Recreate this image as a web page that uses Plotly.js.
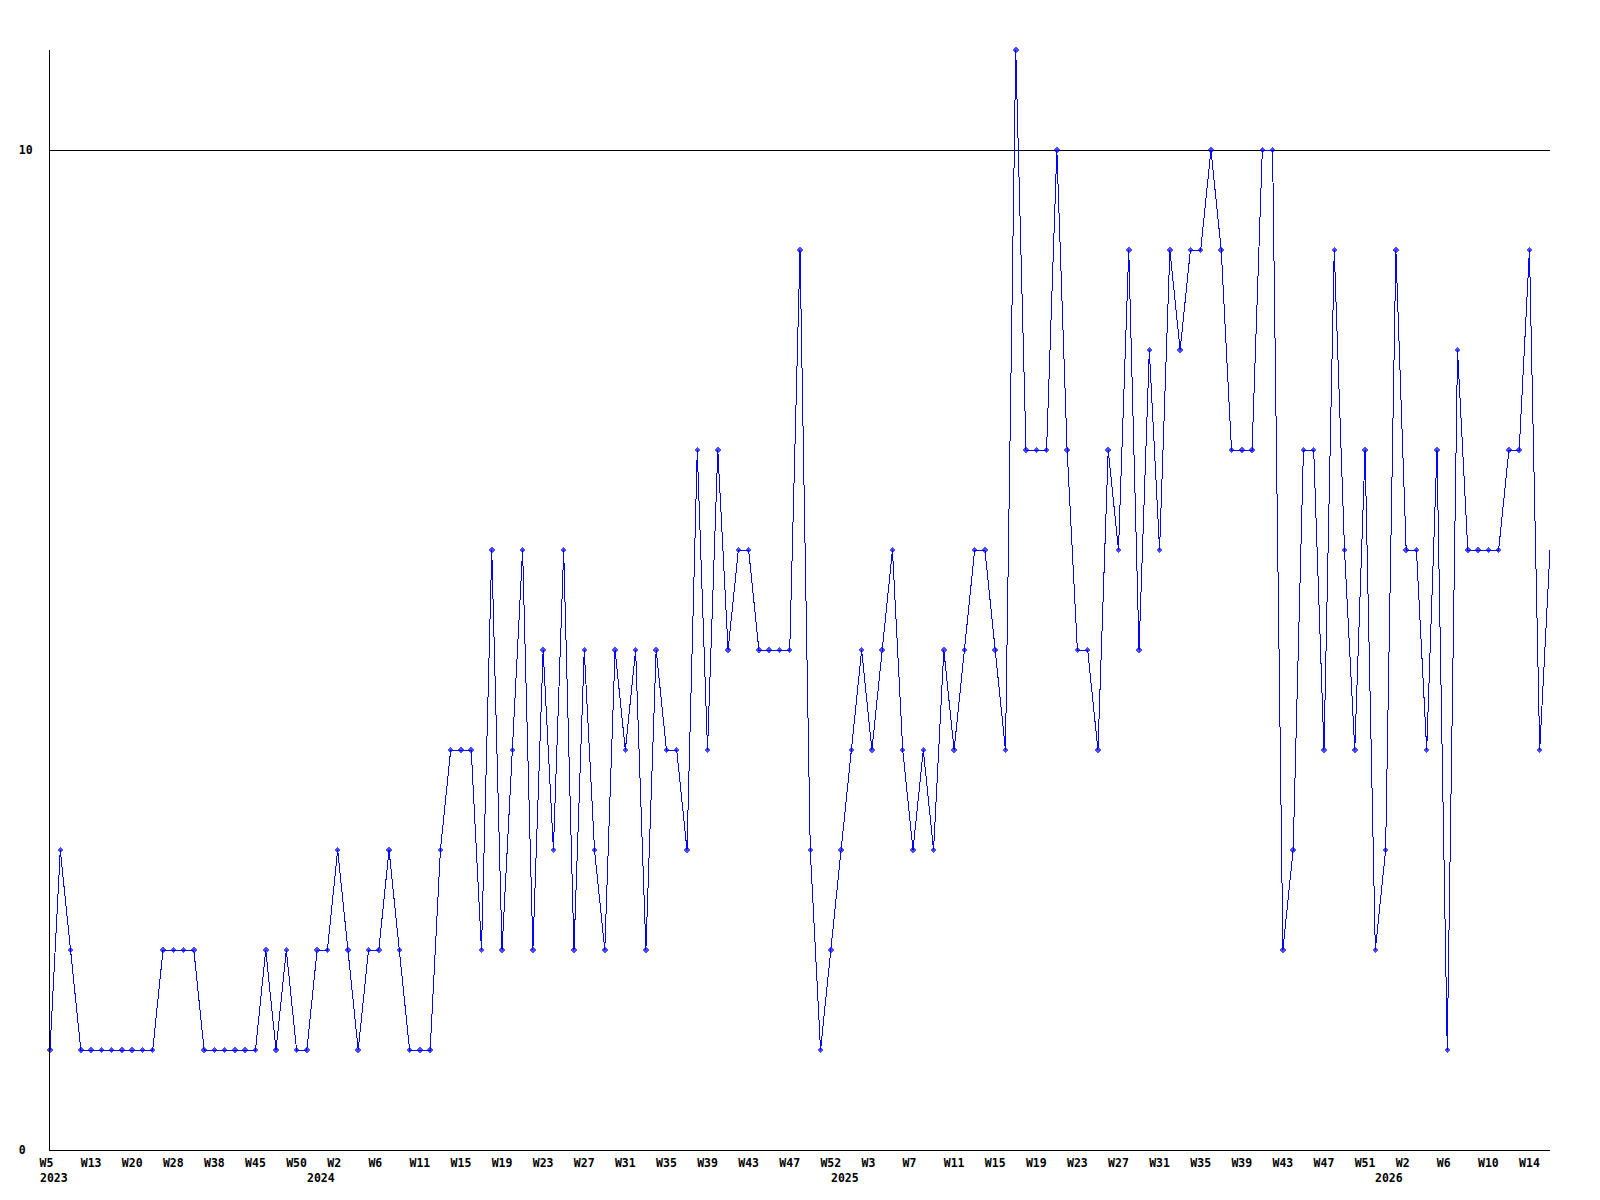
<!DOCTYPE html>
<html>
<head>
<meta charset="utf-8">
<script src="https://cdn.plot.ly/plotly-3.0.1.min.js"></script>
<style>
  html, body { margin: 0; padding: 0; background: #fff; }
  #chart { width: 1600px; height: 1200px; }
  #chart .scatterlayer path { shape-rendering: crispEdges; }
</style>
</head>
<body>
<div id="chart"></div>
<script>
// Weekly values, one per point (147 points)
const values = [
  1,3,2,1,1,1,1,1,1,1,
  1,2,2,2,2,1,1,1,1,1,
  1,2,1,2,1,1,2,2,3,2,
  1,2,2,3,2,1,1,1,3,4,
  4,4,2,6,2,4,6,2,5,3,
  6,2,5,3,2,5,4,5,2,5,
  4,4,3,7,4,7,5,6,6,5,
  5,5,5,9,3,1,2,3,4,5,
  4,5,6,4,3,4,3,5,4,5,
  6,6,5,4,11,7,7,7,10,7,
  5,5,4,7,6,9,5,8,6,9,
  8,9,9,10,9,7,7,7,10,10,
  2,3,7,7,4,9,6,4,7,2,
  3,9,6,6,4,7,1,8,6,6,
  6,6,7,7,9,4,6
];

// Week tick labels, shown on every 4th point
const weekTickLabels = [
  "W5","W13","W20","W28","W38","W45","W50",
  "W2","W6","W11","W15","W19","W23","W27","W31","W35","W39","W43","W47","W52",
  "W3","W7","W11","W15","W19","W23","W27","W31","W35","W39","W43","W47","W51",
  "W2","W6","W10","W14"
];
const weekTickStep = 4;

// Year labels and the point index where each year starts
const yearLabels = ["2023","2024","2025","2026"];
const yearStartIndex = [0, 26, 77, 130];

// Y axis labels
const yTickValues = [0, 10];
const yTickLabels = ["0", "10"];

const xs = values.map((v, i) => i);
const markerSizes = values.map((v, i) => i === values.length - 1 ? 0 : 5);

const tickvals = weekTickLabels.map((t, k) => k * weekTickStep);
const ticktext = weekTickLabels.map(t => t.padEnd(3, "\u00a0"));

const fontBase = { family: "DejaVu Sans Mono", size: 11.5, color: "#000", weight: "bold" };

const annotations = yearLabels.map((y, k) => ({
  text: y,
  x: yearStartIndex[k],
  xref: "x",
  y: 0,
  yref: "paper",
  xanchor: "left",
  yanchor: "top",
  xshift: -10.5,
  yshift: -21,
  showarrow: false,
  borderpad: 0,
  borderwidth: 0,
  font: fontBase
}));

const trace = {
  x: xs,
  y: values,
  type: "scatter",
  mode: "lines+markers",
  line: { color: "#0000ff", width: 1 },
  marker: { symbol: "diamond", size: markerSizes, color: "#0000ff", line: { width: 0 } },
  cliponaxis: false,
  hoverinfo: "skip"
};

const layout = {
  width: 1600,
  height: 1200,
  margin: { l: 50, r: 50, t: 50, b: 50, pad: 0 },
  paper_bgcolor: "#ffffff",
  plot_bgcolor: "#ffffff",
  showlegend: false,
  font: fontBase,
  xaxis: {
    type: "linear",
    range: [0, values.length - 1],
    showgrid: false,
    zeroline: false,
    showline: true,
    linecolor: "#000",
    linewidth: 1,
    ticks: "",
    tickmode: "array",
    tickvals: tickvals,
    ticktext: ticktext,
    tickangle: 0,
    ticklabelstandoff: 2,
    tickfont: fontBase
  },
  yaxis: {
    range: [0, 11],
    showgrid: true,
    gridcolor: "#000",
    gridwidth: 1,
    zeroline: false,
    showline: true,
    linecolor: "#000",
    linewidth: 1,
    ticks: "",
    tickmode: "array",
    tickvals: yTickValues,
    ticktext: yTickLabels.map(t => t.padEnd(2, "\u00a0")),
    ticklabelstandoff: 14,
    tickfont: fontBase
  },
  annotations: annotations
};

Plotly.newPlot("chart", [trace], layout, { displayModeBar: false, staticPlot: true });
</script>
</body>
</html>
